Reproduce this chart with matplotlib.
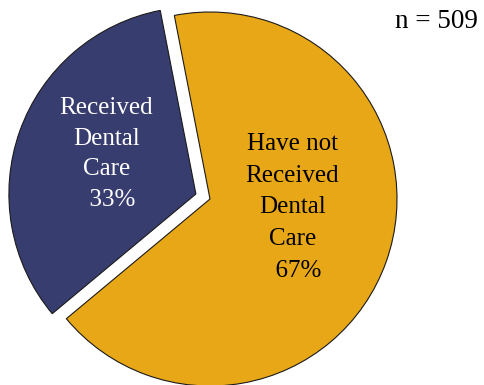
import matplotlib
matplotlib.use('Agg')
import matplotlib.pyplot as plt

# datos
etiquetas = ['Received\nDental\nCare\n  33%', 'Have not\nReceived\nDental\nCare\n  67%']
valores = [33, 67]
colores = ['#383D70', '#E8A717']
separacion = [0.08, 0]
n_total = 509

plt.rcParams['font.family'] = ['Liberation Serif', 'DejaVu Serif']

fig = plt.figure(figsize=(4.84, 3.85), dpi=100)
ax = fig.add_axes([0, 0, 1, 1])

ax.pie(valores, colors=colores, explode=separacion, startangle=101,
       counterclock=True, radius=1,
       wedgeprops=dict(edgecolor='#1a1a1a', linewidth=0.8))

# escala: radio de 187 px, centro de la porcion dorada en (210, 186) desde abajo
r_px = 187.0
cx, cy = 210.0, 186.0
ax.set_xlim(-cx / r_px, (484 - cx) / r_px)
ax.set_ylim(-cy / r_px, (385 - cy) / r_px)
ax.set_aspect('equal')
ax.axis('off')

# textos de las porciones
ax.text(-0.555, 0.24, etiquetas[0], color='white', fontsize=18,
        ha='center', va='center', linespacing=1.5)
ax.text(0.44, -0.045, etiquetas[1], color='black', fontsize=18,
        ha='center', va='center', linespacing=1.58)

fig.text(0.988, 0.943, 'n = %d' % n_total, fontsize=19.5, ha='right', va='center')

plt.savefig('out.png', dpi=100)
